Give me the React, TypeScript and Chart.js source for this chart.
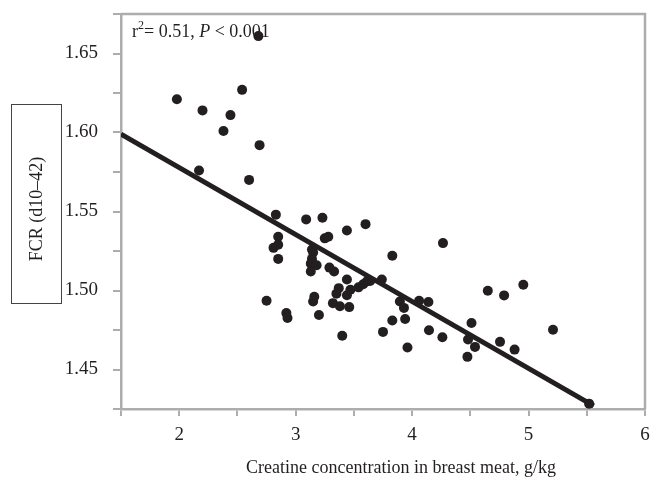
import React, { useEffect, useRef } from "react";
import { Chart, registerables } from "chart.js";

Chart.register(...registerables);

// Creatine concentration in breast meat, g/kg
const creatine = [
  1.98, 2.2, 2.44, 2.54, 2.38, 2.69, 2.68, 2.17, 2.6,
  2.83, 3.09, 3.23, 3.44, 3.6, 2.85, 2.81, 2.85, 2.85, 3.25, 3.28,
  3.14, 3.15, 3.14, 3.13, 3.18, 3.13, 3.29, 3.33, 3.44, 3.37,
  3.35, 3.47, 3.44, 3.54, 3.58, 3.61, 3.64, 3.74, 2.75, 3.16,
  3.15, 3.32, 3.38, 3.46, 2.92, 2.93, 3.2, 3.4, 3.75, 3.83,
  4.265, 3.895, 3.93, 4.06, 4.14, 3.83, 3.94, 4.145, 4.26, 3.96,
  4.51, 4.48, 4.54, 4.475, 4.755, 4.88, 4.65, 4.79, 4.955, 5.21, 5.52,
];
// FCR (d10-42)
const fcr = [
  1.621, 1.614, 1.611, 1.627, 1.601, 1.592, 1.661, 1.576, 1.57,
  1.548, 1.545, 1.546, 1.538, 1.542, 1.534, 1.527, 1.529, 1.52, 1.533, 1.534,
  1.526, 1.524, 1.52, 1.517, 1.516, 1.512, 1.5145, 1.512, 1.507, 1.5015,
  1.498, 1.5005, 1.497, 1.502, 1.504, 1.5057, 1.506, 1.507, 1.4935, 1.496,
  1.493, 1.492, 1.49, 1.4895, 1.4857, 1.4826, 1.4845, 1.4714, 1.4738, 1.522,
  1.53, 1.493, 1.489, 1.4935, 1.4927, 1.481, 1.482, 1.4748, 1.4704, 1.4639,
  1.4794, 1.469, 1.4643, 1.458, 1.4675, 1.4626, 1.4998, 1.4969, 1.5036, 1.4752, 1.4284,
];
// Regression line end points
const fitX = [1.5, 5.56];
const fitY = [1.599, 1.427];

const xTitle = "Creatine concentration in breast meat, g/kg";
const yTitle = "FCR (d10\u201342)";
const statR = "r";
const statSup = "2";
const statMid = "= 0.51, ";
const statP = "P";
const statEnd = " < 0.001";

const AXIS = "#adadad";
const INK = "#231f20";
const FONT = "'Liberation Serif', 'DejaVu Serif', serif";

const overlay = {
  id: "overlay",
  beforeDatasetsDraw(chart: any) {
    const { ctx, chartArea } = chart;
    const { left, top, right, bottom } = chartArea;
    ctx.save();
    ctx.strokeStyle = AXIS;
    ctx.lineWidth = 2.5;
    ctx.beginPath();
    ctx.moveTo(left, top);
    ctx.lineTo(right, top);
    ctx.lineTo(right, bottom);
    ctx.stroke();
    ctx.restore();
  },
  afterDraw(chart: any) {
    const { ctx } = chart;
    ctx.save();
    ctx.fillStyle = INK;
    // annotation
    ctx.textBaseline = "alphabetic";
    ctx.textAlign = "left";
    let x = 132;
    const by = 37;
    ctx.font = `18px ${FONT}`;
    ctx.fillText(statR, x, by);
    x += ctx.measureText(statR).width;
    ctx.font = `12px ${FONT}`;
    ctx.fillText(statSup, x, by - 8);
    x += ctx.measureText(statSup).width;
    ctx.font = `18px ${FONT}`;
    ctx.fillText(statMid, x, by);
    x += ctx.measureText(statMid).width;
    ctx.font = `italic 18px ${FONT}`;
    ctx.fillText(statP, x, by);
    x += ctx.measureText(statP).width;
    ctx.font = `18px ${FONT}`;
    ctx.fillText(statEnd, x, by);

    // x title
    ctx.textAlign = "center";
    ctx.font = `18px ${FONT}`;
    ctx.fillText(xTitle, 401, 473);

    // y title box
    ctx.strokeStyle = "#444";
    ctx.lineWidth = 1;
    ctx.strokeRect(11.5, 104.5, 50, 199);
    ctx.translate(37, 209);
    ctx.rotate(-Math.PI / 2);
    ctx.textBaseline = "middle";
    ctx.fillText(yTitle, 0, 0);
    ctx.restore();
  },
};

export default function App() {
  const ref = useRef<HTMLCanvasElement | null>(null);
  useEffect(() => {
    if (!ref.current) return;
    const points = creatine.map((v, i) => ({ x: v, y: fcr[i] }));
    const fit = fitX.map((v, i) => ({ x: v, y: fitY[i] }));
    const chart = new Chart(ref.current, {
      type: "scatter",
      data: {
        datasets: [
          {
            type: "line",
            data: fit,
            borderColor: INK,
            borderWidth: 5,
            pointRadius: 0,
            showLine: true,
            fill: false,
          } as any,
          {
            data: points,
            backgroundColor: INK,
            borderColor: INK,
            pointRadius: 5,
            pointBorderWidth: 0,
          },
        ],
      },
      options: {
        animation: false,
        responsive: false,
        layout: { padding: { top: 14, right: 2, left: 0, bottom: 0 } },
        plugins: { legend: { display: false }, tooltip: { enabled: false } },
        scales: {
          x: {
            type: "linear",
            min: 1.5,
            max: 6,
            afterFit: (s: any) => {
              s.height = 68;
              s.paddingLeft = 0;
              s.paddingRight = 0;
            },
            border: { display: true, color: AXIS, width: 2.5 },
            grid: {
              drawOnChartArea: false,
              drawTicks: true,
              tickLength: 7,
              color: AXIS,
              lineWidth: 2,
            },
            ticks: {
              stepSize: 0.5,
              autoSkip: false,
              maxRotation: 0,
              padding: 8,
              color: INK,
              font: { family: FONT, size: 19 },
              callback: (v: any) =>
                Math.abs(v - Math.round(v)) < 1e-6 ? String(Math.round(v)) : "",
            },
          },
          y: {
            type: "linear",
            min: 1.425,
            max: 1.675,
            afterFit: (s: any) => {
              s.width = 121;
              s.paddingTop = 0;
              s.paddingBottom = 0;
            },
            border: { display: true, color: AXIS, width: 2.5 },
            grid: {
              drawOnChartArea: false,
              drawTicks: true,
              tickLength: 8,
              color: AXIS,
              lineWidth: 2,
            },
            ticks: {
              stepSize: 0.025,
              autoSkip: false,
              padding: 15,
              color: INK,
              font: { family: FONT, size: 19 },
              callback: (v: any) => {
                const k = Math.round(v * 1000);
                if (k % 50 === 0 && k >= 1450 && k <= 1650) return (k / 1000).toFixed(2);
                return "";
              },
            },
          },
        },
      },
      plugins: [overlay],
    });
    return () => chart.destroy();
  }, []);
  return (
    <div style={{ position: "fixed", left: 0, top: 0, width: 650, height: 477, background: "#fff" }}>
      <canvas ref={ref} width={650} height={477} />
    </div>
  );
}
